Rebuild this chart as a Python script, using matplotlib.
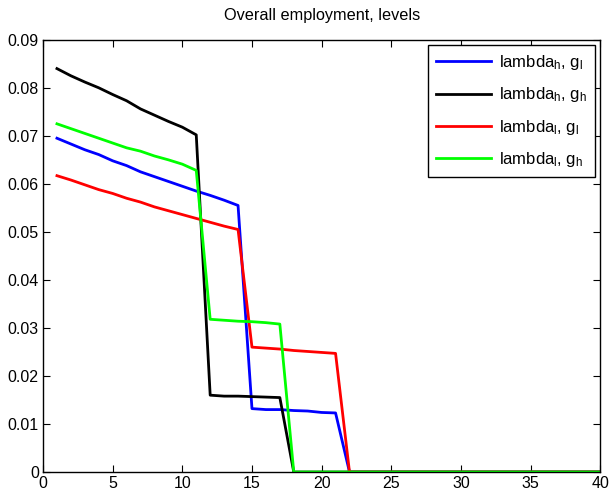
import numpy as np
import matplotlib.pyplot as plt

plt.rcParams['font.family'] = ['Liberation Sans', 'DejaVu Sans']
plt.rcParams['mathtext.fontset'] = 'custom'
plt.rcParams['mathtext.rm'] = 'Liberation Sans'
plt.rcParams['mathtext.it'] = 'Liberation Sans'

periods = np.arange(1, 41)

# employment paths for each parameter combination, zero after exit
emp_hl = [0.0695, 0.0683, 0.0671, 0.0661, 0.0648, 0.0638, 0.0625, 0.0615, 0.0605, 0.0595,
          0.0585, 0.0576, 0.0566, 0.0555, 0.0132, 0.0130, 0.0130, 0.0128, 0.0127, 0.0124,
          0.0123] + [0.0] * 19
emp_hh = [0.0840, 0.0825, 0.0812, 0.0800, 0.0786, 0.0773, 0.0756, 0.0743, 0.0730, 0.0718,
          0.0702, 0.0160, 0.0158, 0.0158, 0.0157, 0.0156, 0.0155] + [0.0] * 23
emp_ll = [0.0617, 0.0608, 0.0598, 0.0588, 0.0580, 0.0570, 0.0562, 0.0552, 0.0544, 0.0536,
          0.0528, 0.0520, 0.0512, 0.0505, 0.0260, 0.0258, 0.0256, 0.0253, 0.0251, 0.0249,
          0.0247] + [0.0] * 19
emp_lh = [0.0725, 0.0715, 0.0705, 0.0695, 0.0685, 0.0675, 0.0668, 0.0658, 0.0650, 0.0641,
          0.0628, 0.0318, 0.0316, 0.0314, 0.0313, 0.0311, 0.0308] + [0.0] * 23

fig = plt.figure(figsize=(6.11, 4.94), dpi=100)
ax = fig.add_axes([0.0704, 0.0445, 0.912, 0.875])

ax.plot(periods, emp_hl, color='#0000ff', lw=2, label='lambda$_h$, g$_l$')
ax.plot(periods, emp_hh, color='black', lw=2, label='lambda$_h$, g$_h$')
ax.plot(periods, emp_ll, color='#ff0000', lw=2, label='lambda$_l$, g$_l$')
ax.plot(periods, emp_lh, color='#00ff00', lw=2, label='lambda$_l$, g$_h$')

ax.set_xlim(0, 40)
ax.set_ylim(0, 0.09)
ax.set_xticks(range(0, 41, 5))
ax.set_yticks(np.arange(0, 0.091, 0.01))
ax.set_yticklabels(['0'] + ['%.2f' % v for v in np.arange(0.01, 0.091, 0.01)])
ax.tick_params(direction='in', top=True, right=True, labelsize=11.5, length=5, pad=3)
for sp in ax.spines.values():
    sp.set_linewidth(1.0)
ax.set_title('Overall employment, levels', fontsize=11.7, pad=14)

leg = ax.legend(loc='upper right', fontsize=12, fancybox=False, framealpha=1,
                edgecolor='black', borderpad=0.5, labelspacing=0.8, handlelength=3.3,
                handletextpad=0.45, borderaxespad=0.3)
leg.get_frame().set_linewidth(1.0)

fig.savefig('out.png', dpi=100)
